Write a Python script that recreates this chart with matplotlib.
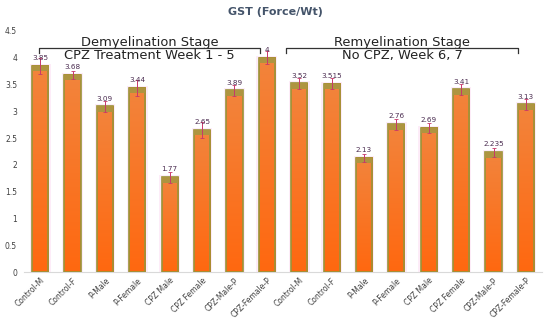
import numpy as np
import matplotlib.pyplot as plt
from matplotlib.colors import LinearSegmentedColormap

# data
groups = ["Control-M", "Control-F", "P-Male", "P-Female", "CPZ Male", "CPZ Female",
          "CPZ-Male-P", "CPZ-Female-P"]
demyel_vals = [3.85, 3.68, 3.09, 3.44, 1.77, 2.65, 3.39, 4.0]
remyel_vals = [3.52, 3.515, 2.13, 2.76, 2.69, 3.41, 2.235, 3.13]
demyel_err = [0.15, 0.08, 0.1, 0.15, 0.1, 0.15, 0.1, 0.12]
remyel_err = [0.1, 0.1, 0.08, 0.1, 0.1, 0.1, 0.08, 0.1]
value_labels = ["3.85", "3.68", "3.09", "3.44", "1.77", "2.65", "3.89", "4",
                "3.52", "3.515", "2.13", "2.76", "2.69", "3.41", "2.235", "3.13"]

values = demyel_vals + remyel_vals
errors = demyel_err + remyel_err
tick_labels = groups + groups
x = np.arange(len(values))
w = 0.5

fig = plt.figure(figsize=(5.5, 3.21), dpi=100)
ax = fig.add_axes([0.0436, 0.1526, 0.942, 0.751])

cmap = LinearSegmentedColormap.from_list("og", ["#ff6810", "#f2843c"])
grad = np.linspace(0, 1, 100).reshape(-1, 1)

for xi, v in zip(x, values):
    # faint pink halo behind each bar
    ax.bar(xi, v + 0.04, width=w + 0.14, color="#fdecf8", zorder=1)
    ax.imshow(grad, cmap=cmap, origin="lower", aspect="auto",
              extent=(xi - w / 2, xi + w / 2, 0, v), zorder=2)
    ax.bar(xi, v, width=w, facecolor="none", edgecolor="#9a9438", linewidth=1.2, zorder=3)
    # olive band at the top of each bar
    ax.bar(xi, 0.1, bottom=v - 0.1, width=w, color="#ae9440", zorder=3)

ax.errorbar(x, values, yerr=errors, fmt="none", ecolor="#c8386a", elinewidth=0.7,
            capsize=1.2, capthick=0.6, zorder=4)

for xi, v, lab in zip(x, values, value_labels):
    ax.text(xi, v + 0.09, lab, ha="center", va="bottom", fontsize=5.2,
            color="#4a2c50", zorder=5)

ax.set_xlim(-0.5, 15.5)
ax.set_ylim(0, 4.5)
ax.set_yticks(np.arange(0, 4.51, 0.5))
ax.set_yticklabels(["0", "0.5", "1", "1.5", "2", "2.5", "3", "3.5", "4", "4.5"])
ax.set_xticks(x)
ax.set_xticklabels(tick_labels, rotation=45, ha="right", rotation_mode="anchor", fontsize=5.5,
                   color="#404040")
ax.tick_params(axis="y", length=0, labelsize=5.5, labelcolor="#404040", pad=5)
ax.tick_params(axis="x", length=0, pad=3)
for s in ["top", "right", "left"]:
    ax.spines[s].set_visible(False)
ax.spines["bottom"].set_color("#d9d9d9")

# stage brackets
def bracket(x0, x1, y, line1, line2):
    ax.plot([x0, x0, x1, x1], [y - 0.1, y, y, y - 0.1], color="#333333", lw=0.9,
            clip_on=False, zorder=6)
    xm = (x0 + x1) / 2
    ax.text(xm, y + 0.11, line1, ha="center", va="center", fontsize=9.4, color="#222222")
    ax.text(xm, y - 0.13, line2, ha="center", va="center", fontsize=9.4, color="#222222")

bracket(-0.03, 6.79, 4.18, "Demyelination Stage", "CPZ Treatment Week 1 - 5")
bracket(7.6, 14.75, 4.18, "Remyelination Stage", "No CPZ, Week 6, 7")

fig.text(0.5, 0.963, "GST (Force/Wt)", ha="center", va="center", fontsize=8,
         fontweight="bold", color="#44546a")

fig.savefig("out.png", dpi=100)
